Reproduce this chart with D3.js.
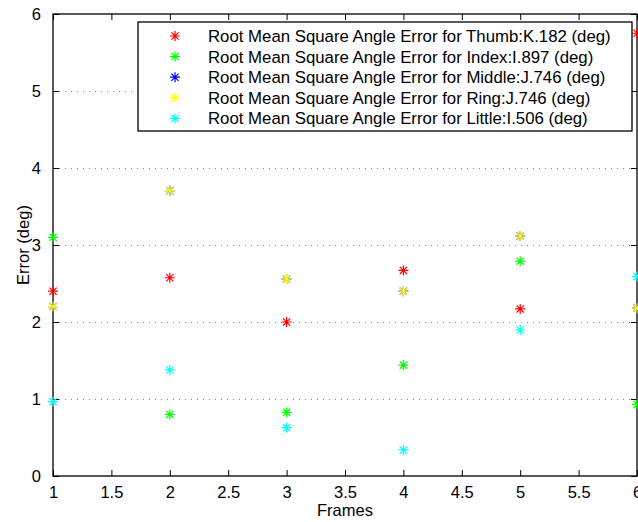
<!DOCTYPE html>
<html>
<head>
<meta charset="utf-8">
<script src="https://cdn.jsdelivr.net/npm/d3@7"></script>
<style>
  body { margin: 0; background: #fff; }
  svg { display: block; font-family: "Liberation Sans", Arial, sans-serif; }
</style>
</head>
<body>
<svg></svg>
<script>
// Data
const frames = [1, 2, 3, 4, 5, 6];
const thumb = [2.40, 2.575, 2.0, 2.67, 2.17, 5.75];
const index = [3.10, 0.80, 0.827, 1.44, 2.79, 0.93];
const middle = [2.20, 3.705, 2.558, 2.40, 3.117, 2.18];
const ring = [2.20, 3.705, 2.558, 2.40, 3.117, 2.18];
const little = [0.965, 1.377, 0.628, 0.338, 1.896, 2.59];

const seriesNames = [
  "Root Mean Square Angle Error for Thumb:K.182 (deg)",
  "Root Mean Square Angle Error for Index:I.897 (deg)",
  "Root Mean Square Angle Error for Middle:J.746 (deg)",
  "Root Mean Square Angle Error for Ring:J.746 (deg)",
  "Root Mean Square Angle Error for Little:I.506 (deg)"
];
const seriesColors = ["#ff0000", "#00ff00", "#0000ff", "#ffff00", "#00ffff"];
const xTicks = [1, 1.5, 2, 2.5, 3, 3.5, 4, 4.5, 5, 5.5, 6];
const yTicks = [0, 1, 2, 3, 4, 5, 6];

const series = [thumb, index, middle, ring, little].map((vals, i) => ({
  name: seriesNames[i],
  color: seriesColors[i],
  values: frames.map((f, j) => ({ x: f, y: vals[j] }))
}));

const width = 638;
const height = 522;
const margin = { top: 14, right: 1, bottom: 46, left: 53 };

const svg = d3.select("svg").attr("width", width).attr("height", height);

const x = d3.scaleLinear().domain([1, 6]).range([margin.left, width - margin.right]);
const y = d3.scaleLinear().domain([0, 6]).range([height - margin.bottom, margin.top]);

// asterisk marker like matlab '*'
function star(r) {
  const d = r * 0.72;
  return `M${-r},0H${r}M0,${-r}V${r}M${-d},${-d}L${d},${d}M${-d},${d}L${d},${-d}`;
}

// grid lines (dotted, y only)
svg.append("g")
  .selectAll("line")
  .data(yTicks.slice(1, -1))
  .enter()
  .append("line")
  .attr("x1", x(1))
  .attr("x2", x(6))
  .attr("y1", (d) => Math.round(y(d)) + 0.5)
  .attr("y2", (d) => Math.round(y(d)) + 0.5)
  .attr("stroke", "#888")
  .attr("stroke-width", 1)
  .attr("stroke-dasharray", "1,5");

// axes box
const tickLen = 6;
const fmt = d3.format("");
svg.append("g")
  .attr("transform", `translate(0, ${y(0)})`)
  .call(d3.axisBottom(x).tickValues(xTicks).tickSize(-tickLen).tickPadding(10).tickFormat(fmt))
  .call((g) => g.select(".domain").remove());

svg.append("g")
  .attr("transform", `translate(0, ${y(6)})`)
  .call(d3.axisTop(x).tickValues(xTicks).tickSize(-tickLen).tickFormat(""))
  .call((g) => g.select(".domain").remove());

svg.append("g")
  .attr("transform", `translate(${x(1)}, 0)`)
  .call(d3.axisLeft(y).tickValues(yTicks).tickSize(-tickLen).tickPadding(12).tickFormat(fmt))
  .call((g) => g.select(".domain").remove());

svg.append("g")
  .attr("transform", `translate(${x(6)}, 0)`)
  .call(d3.axisRight(y).tickValues(yTicks).tickSize(-tickLen).tickFormat(""))
  .call((g) => g.select(".domain").remove());

svg.selectAll(".tick line").attr("stroke", "#000");
svg.selectAll(".tick text").attr("font-size", "16.5px").attr("fill", "#000")
  .attr("font-family", "Liberation Sans, Arial, sans-serif");

svg.append("rect")
  .attr("x", x(1))
  .attr("y", y(6))
  .attr("width", x(6) - x(1))
  .attr("height", y(0) - y(6))
  .attr("fill", "none")
  .attr("stroke", "#000")
  .attr("stroke-width", 1.3);

// axis labels
svg.append("text")
  .attr("x", (x(1) + x(6)) / 2)
  .attr("y", 516)
  .attr("text-anchor", "middle")
  .attr("font-size", "16.5px")
  .text("Frames");

svg.append("text")
  .attr("transform", `translate(29, ${(y(0) + y(6)) / 2}) rotate(-90)`)
  .attr("text-anchor", "middle")
  .attr("font-size", "16.5px")
  .text("Error (deg)");

// points
series.forEach((s) => {
  svg.append("g")
    .selectAll("path")
    .data(s.values)
    .enter()
    .append("path")
    .attr("transform", (d) => `translate(${x(d.x)}, ${y(d.y)})`)
    .attr("d", star(5))
    .attr("stroke", s.color)
    .attr("stroke-width", 1.2)
    .attr("fill", "none");
});

// legend
const legend = svg.append("g").attr("transform", "translate(138, 22)");

legend.append("rect")
  .attr("width", 494)
  .attr("height", 109)
  .attr("fill", "#fff")
  .attr("stroke", "#000")
  .attr("stroke-width", 1.3);

legend.selectAll(".legend-item")
  .data(series)
  .enter()
  .append("g")
  .attr("class", "legend-item")
  .attr("transform", (d, i) => `translate(0, ${14 + i * 20.6})`)
  .each(function (d) {
    d3.select(this)
      .append("path")
      .attr("transform", "translate(37, 0)")
      .attr("d", star(5))
      .attr("stroke", d.color)
      .attr("stroke-width", 1.2)
      .attr("fill", "none");

    d3.select(this)
      .append("text")
      .attr("x", 70)
      .attr("y", 6)
      .attr("font-size", "16.8px")
      .attr("fill", "#000")
      .text(d.name);
  });
</script>
</body>
</html>
